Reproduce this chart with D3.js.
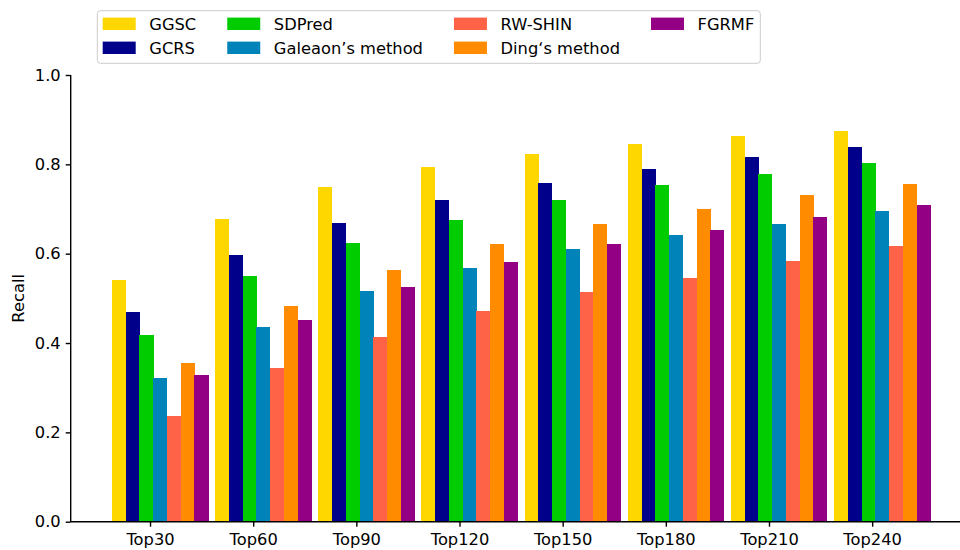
<!DOCTYPE html>
<html>
<head>
<meta charset="utf-8">
<script src="https://cdn.jsdelivr.net/npm/d3@7"></script>
<style>
  body { margin: 0; background: #fff; }
  text { font-family: "DejaVu Sans", sans-serif; fill: #000; }
</style>
</head>
<body>
<div id="chart"></div>
<script>
// categories on the x axis
const categories = ["Top30", "Top60", "Top90", "Top120", "Top150", "Top180", "Top210", "Top240"];

// methods, in bar order
const methods = ["GGSC", "GCRS", "SDPred", "Galeaon’s method", "RW-SHIN", "Ding‘s method", "FGRMF"];
const colors = ["#FFD700", "#00008B", "#00CC00", "#0083B8", "#FF6347", "#FF8C00", "#930083"];

// recall values per method
const ggsc    = [0.541, 0.677, 0.749, 0.794, 0.823, 0.845, 0.863, 0.874];
const gcrs    = [0.469, 0.597, 0.669, 0.720, 0.758, 0.789, 0.816, 0.838];
const sdpred  = [0.418, 0.550, 0.624, 0.675, 0.720, 0.753, 0.778, 0.802];
const galeaon = [0.322, 0.436, 0.516, 0.568, 0.610, 0.642, 0.666, 0.695];
const rwshin  = [0.237, 0.344, 0.414, 0.471, 0.514, 0.546, 0.583, 0.617];
const ding    = [0.355, 0.483, 0.563, 0.621, 0.666, 0.700, 0.731, 0.756];
const fgrmf   = [0.328, 0.452, 0.525, 0.581, 0.621, 0.653, 0.682, 0.709];

const values = [ggsc, gcrs, sdpred, galeaon, rwshin, ding, fgrmf];

const yTicks = [0, 0.2, 0.4, 0.6, 0.8, 1.0];

const width = 960, height = 550;
const fontSize = 16.3;

const svg = d3.select("#chart").append("svg")
  .attr("width", width)
  .attr("height", height);

// x: category index -> pixel of the tick
const x = d3.scaleLinear()
  .domain([-0.769, 7.9])
  .range([70.7, 965]);
const step = x(1) - x(0);

// bars inside a group: group is offset from the tick (as in the original)
const inner = d3.scaleBand()
  .domain(d3.range(methods.length))
  .range([-0.369, 0.564])
  .padding(0);

const y = d3.scaleLinear()
  .domain([0, 1])
  .range([521.7, 75]);

// bars
const rows = [];
values.forEach((series, m) => {
  series.forEach((v, i) => rows.push({m: m, i: i, v: v}));
});

svg.append("g").selectAll("rect")
  .data(rows)
  .enter()
  .append("rect")
  .attr("x", d => x(d.i + inner(d.m)))
  .attr("width", inner.bandwidth() * step + 0.3)
  .attr("y", d => y(d.v))
  .attr("height", d => y(0) - y(d.v))
  .attr("fill", d => colors[d.m])
  .attr("shape-rendering", "crispEdges");

// y axis
const yAxis = svg.append("g")
  .attr("transform", "translate(" + x.range()[0] + ",0)")
  .call(d3.axisLeft(y).tickValues(yTicks).tickFormat(d3.format(".1f")).tickSize(5).tickPadding(5));

// x axis
const xAxis = svg.append("g")
  .attr("transform", "translate(0," + y(0) + ")")
  .call(d3.axisBottom(x).tickValues(d3.range(categories.length)).tickFormat(i => categories[i]).tickSize(5).tickPadding(7));

[xAxis, yAxis].forEach(a => {
  a.select(".domain").attr("stroke", "#000").attr("stroke-width", 1.4);
  a.selectAll(".tick line").attr("stroke", "#000").attr("stroke-width", 1.4);
  a.selectAll(".tick text")
    .style("font-family", "DejaVu Sans")
    .style("font-size", fontSize + "px")
    .attr("fill", "#000");
});
yAxis.select(".domain").attr("d", "M0," + y(1) + "V" + y(0));
xAxis.select(".domain").attr("d", "M" + x.range()[0] + ",0H" + x.range()[1]);

// y label
svg.append("text")
  .attr("transform", "translate(24," + (y(0) + y(1)) / 2 + ") rotate(-90)")
  .attr("text-anchor", "middle")
  .style("font-size", fontSize + "px")
  .text("Recall");

// legend, 4 columns, filled column by column
const legend = svg.append("g");
const legendBox = legend.append("rect")
  .attr("x", 97.3).attr("y", 10.7)
  .attr("height", 52.6)
  .attr("rx", 3)
  .attr("fill", "#fff")
  .attr("fill-opacity", 0.8)
  .attr("stroke", "#cccccc")
  .attr("stroke-width", 1);

const rowY = [23.8, 47.8];
let colX = 102.7;
const nCols = 4;
for (let c = 0; c < nCols; c++) {
  let maxW = 0;
  for (let r = 0; r < 2; r++) {
    const m = c * 2 + r;
    if (m >= methods.length) continue;
    legend.append("rect")
      .attr("x", colX).attr("y", rowY[r] - 6.2)
      .attr("width", 33).attr("height", 12.4)
      .attr("fill", colors[m]);
    const t = legend.append("text")
      .attr("x", colX + 46.6).attr("y", rowY[r])
      .attr("dy", "0.36em")
      .style("font-size", fontSize + "px")
      .text(methods[m]);
    maxW = Math.max(maxW, t.node().getComputedTextLength());
  }
  if (c < nCols - 1) colX += 46.6 + maxW + 31;
  else legendBox.attr("width", colX + 46.6 + maxW + 6 - 97.3);
}
</script>
</body>
</html>
